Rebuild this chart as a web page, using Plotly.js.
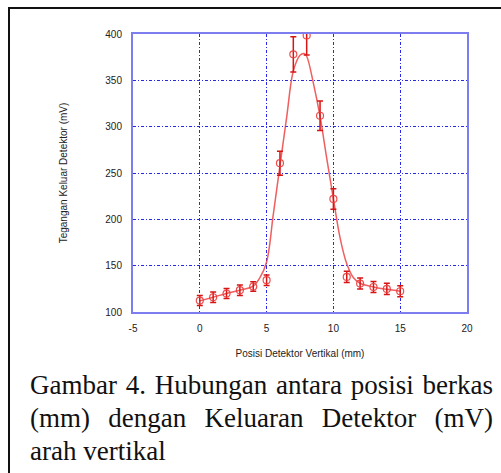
<!DOCTYPE html>
<html>
<head>
<meta charset="utf-8">
<script src="https://cdn.plot.ly/plotly-3.0.1.min.js"></script>
<style>
  html, body { margin: 0; padding: 0; background: #fff; width: 501px; height: 473px; overflow: hidden; }
  #frame { position: absolute; left: 8px; top: 7px; width: 520px; height: 500px; border-left: 2px solid #111; border-top: 2px solid #111; box-sizing: border-box; }
  #chart { position: absolute; left: 0; top: 0; width: 501px; height: 473px; }
  #caption { position: absolute; left: 30px; top: 369px; width: 463px; font-family: "Liberation Serif", "DejaVu Serif", serif; font-size: 27px; line-height: 33px; color: #111; }
  #caption .j { text-align: justify; text-align-last: justify; white-space: nowrap; display: block; }
  #caption .l { text-align: left; display: block; }
</style>
</head>
<body>
<div id="frame"></div>
<div id="chart"></div>
<div id="caption">
  <span class="j">Gambar 4. Hubungan antara posisi berkas</span>
  <span class="j">(mm) dengan Keluaran Detektor (mV)</span>
  <span class="l">arah vertikal</span>
</div>
<script>
// Measured data (position in mm, detector output in mV, error)
var posX  = [0, 1, 2, 3, 4, 5, 6, 7, 8, 9, 10, 11, 12, 13, 14, 15];
var voltY = [112.3, 115.9, 119.9, 123.5, 127.5, 134.3, 260.6, 378.1, 398.4, 311.8, 222.0, 137.9, 130.7, 127.0, 124.9, 122.4];
var errY  = [5.4, 5.7, 5.4, 5.6, 5.2, 5.6, 13, 19, 21, 16, 11, 6, 6, 6, 6, 6];

// Fitted curve
var fitX = [0, 1, 2, 3, 4, 4.5, 5, 5.5, 6, 6.5, 7, 7.5, 7.8, 8, 8.5, 9, 9.5, 10, 10.5, 11, 11.5, 12, 13, 14, 15];
var fitY = [112, 116, 120, 123.5, 128, 137, 154, 205, 258, 310, 360, 377, 379, 376, 347, 311, 266, 222, 180, 152, 137, 131, 127, 124.5, 122.5];

var xTickVals = [-5, 0, 5, 10, 15, 20];
var yTickVals = [100, 150, 200, 250, 300, 350, 400];

var traces = [
  {
    x: fitX, y: fitY, type: 'scatter', mode: 'lines',
    line: { color: 'rgba(235,55,55,0.8)', width: 1.5, shape: 'spline', smoothing: 1 },
    hoverinfo: 'skip'
  },
  {
    x: posX, y: voltY, type: 'scatter', mode: 'markers',
    marker: { symbol: 'circle-open', size: 7, color: 'rgba(235,60,60,0.9)', line: { width: 1.2 } },
    error_y: { type: 'data', array: errY, visible: true, color: 'rgb(215,20,20)', thickness: 1.5, width: 3 }
  }
];

var axisFont = { family: 'Liberation Sans, Arial, sans-serif', size: 10, color: '#222' };
var gridDash = '3px,2px,1px,2px';

var layout = {
  width: 501, height: 473,
  margin: { l: 133, r: 34, t: 34, b: 161, pad: 0 },
  paper_bgcolor: 'rgba(0,0,0,0)',
  plot_bgcolor: 'rgba(0,0,0,0)',
  showlegend: false,
  xaxis: {
    range: [-5, 20], tickvals: xTickVals, ticktext: xTickVals.map(String),
    showgrid: true, gridcolor: 'rgb(40,40,235)', griddash: gridDash, gridwidth: 1,
    zeroline: false, showline: true, mirror: true, linecolor: 'rgb(125,125,240)', linewidth: 2,
    ticks: 'outside', ticklen: 6, tickcolor: 'rgba(0,0,0,0)',
    tickfont: axisFont,
    title: { text: 'Posisi Detektor Vertikal (mm)', font: axisFont, standoff: 17 },
    automargin: false
  },
  yaxis: {
    range: [100, 400], tickvals: yTickVals, ticktext: yTickVals.map(String),
    showgrid: true, gridcolor: 'rgb(40,40,235)', griddash: gridDash, gridwidth: 1,
    zeroline: false, showline: true, mirror: true, linecolor: 'rgb(125,125,240)', linewidth: 2,
    ticks: 'outside', ticklen: 7, tickcolor: 'rgba(0,0,0,0)',
    tickfont: axisFont,
    title: { text: 'Tegangan Keluar Detektor (mV)', font: axisFont, standoff: 36 },
    automargin: false
  }
};

Plotly.newPlot('chart', traces, layout, { displayModeBar: false, staticPlot: true });
</script>
</body>
</html>
